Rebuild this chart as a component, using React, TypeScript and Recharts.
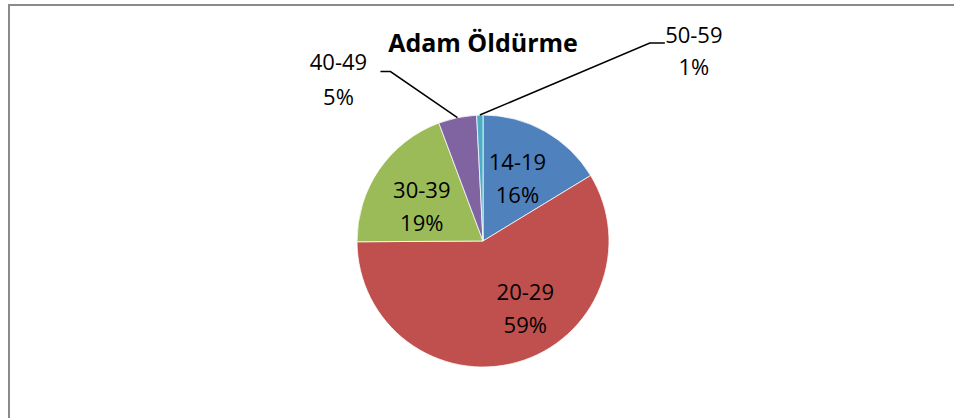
import React from 'react';
import { PieChart, Pie, Cell } from 'recharts';

const ageGroups = ['14-19', '20-29', '30-39', '40-49', '50-59'];
const shares = [16.3, 58.6, 19.4, 4.9, 0.8];
const sliceColours = ['#4F81BD', '#C0504D', '#9BBB59', '#8064A2', '#4BACC6'];
const chartTitle = 'Adam Öldürme';

const chartData = ageGroups.map((name, i) => ({ name, value: shares[i] }));

const RADIAN = Math.PI / 180;
const FONT = '"Open Sans", sans-serif';
const LABEL_SIZE = 22;

// nudges for the inside labels, Excel doesn't put them exactly on the mid angle
const insideNudge = {
  0: [-2, 3],
  1: [22, -4],
  2: [0, 8],
};

// leader line offsets for the small slices (elbow, then short horizontal run)
const outsideLabels = {
  3: { elbow: [-67, -46], run: -10, textDx: -42, dy: [-2, 33] },
  4: { elbow: [170, -72], run: 15, textDx: 29, dy: [0, 32] },
};

const renderLabel = (props) => {
  const { cx, cy, midAngle, outerRadius, percent, index, name } = props;
  const pct = `${Math.round(percent * 100)}%`;
  const cos = Math.cos(-midAngle * RADIAN);
  const sin = Math.sin(-midAngle * RADIAN);
  const out = outsideLabels[index];

  if (!out) {
    const r = outerRadius * 0.59;
    const nudge = insideNudge[index] || [0, 0];
    const x = cx + r * cos + nudge[0];
    const y = cy + r * sin + nudge[1];
    return (
      <g key={`lbl-${index}`}>
        <text x={x} y={y - 9} textAnchor="middle" fontSize={LABEL_SIZE} fontFamily={FONT} fill="#000">
          {name}
        </text>
        <text x={x} y={y + 24} textAnchor="middle" fontSize={LABEL_SIZE} fontFamily={FONT} fill="#000">
          {pct}
        </text>
      </g>
    );
  }

  const sx = cx + outerRadius * cos;
  const sy = cy + outerRadius * sin;
  const ex = sx + out.elbow[0];
  const ey = sy + out.elbow[1];
  const lx = ex + out.run;
  const tx = lx + out.textDx;
  return (
    <g key={`lbl-${index}`}>
      <polyline
        points={`${sx},${sy} ${ex},${ey} ${lx},${ey}`}
        fill="none"
        stroke="#000"
        strokeWidth={1.5}
      />
      <text x={tx} y={ey + out.dy[0]} textAnchor="middle" fontSize={LABEL_SIZE} fontFamily={FONT} fill="#000">
        {name}
      </text>
      <text x={tx} y={ey + out.dy[1]} textAnchor="middle" fontSize={LABEL_SIZE} fontFamily={FONT} fill="#000">
        {pct}
      </text>
    </g>
  );
};

export default function App() {
  return (
    <div style={{ position: 'absolute', left: 0, top: 0, width: 954, height: 418, background: '#fff', overflow: 'hidden' }}>
      <div
        style={{
          position: 'absolute',
          left: 8,
          top: 4,
          right: -4,
          bottom: -4,
          borderLeft: '2px solid #8a8a8a',
          borderTop: '2px solid #8a8a8a',
        }}
      />
      <div
        style={{
          position: 'absolute',
          left: 283,
          width: 400,
          top: 30,
          textAlign: 'center',
          fontFamily: FONT,
          fontWeight: 700,
          fontSize: 25,
          lineHeight: '25px',
          color: '#000',
        }}
      >
        {chartTitle}
      </div>
      <div style={{ position: 'absolute', left: 0, top: 0 }}>
        <PieChart width={954} height={418} margin={{ top: 0, right: 0, bottom: 0, left: 0 }}>
          <Pie
            data={chartData}
            dataKey="value"
            nameKey="name"
            cx={483}
            cy={241}
            outerRadius={126}
            startAngle={90}
            endAngle={-270}
            stroke="#fff"
            strokeWidth={0.75}
            label={renderLabel}
            labelLine={false}
            isAnimationActive={false}
          >
            {chartData.map((d, i) => (
              <Cell key={d.name} fill={sliceColours[i]} />
            ))}
          </Pie>
        </PieChart>
      </div>
    </div>
  );
}
